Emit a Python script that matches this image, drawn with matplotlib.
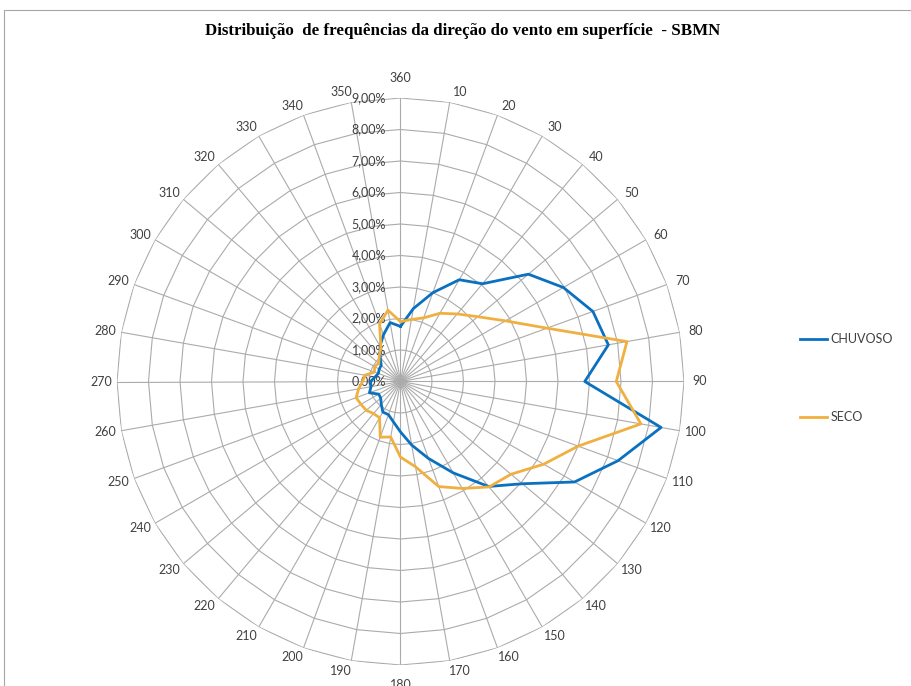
import numpy as np
import matplotlib
matplotlib.use("Agg")
import matplotlib.pyplot as plt
from matplotlib.patches import Rectangle

# Wind direction (degrees) and frequency (%)
directions = [360, 10, 20, 30, 40, 50, 60, 70, 80, 90, 100, 110,
              120, 130, 140, 150, 160, 170, 180, 190, 200, 210, 220, 230,
              240, 250, 260, 270, 280, 290, 300, 310, 320, 330, 340, 350]

chuvoso = [1.75, 2.35, 3.00, 3.73, 4.05, 5.30, 5.97, 6.50, 6.70, 5.85, 8.40, 7.35,
           6.38, 5.05, 4.35, 3.35, 2.60, 2.05, 1.60, 1.30, 1.12, 1.12, 0.95, 0.82,
           0.80, 1.05, 0.95, 0.95, 0.82, 0.75, 0.78, 0.80, 1.00, 1.30, 1.58, 1.90]

seco = [1.90, 2.00, 2.15, 2.50, 2.80, 3.20, 3.85, 4.95, 7.30, 6.85, 7.75, 6.00,
        5.25, 4.58, 4.37, 3.92, 3.55, 2.75, 2.40, 1.79, 1.88, 1.33, 1.33, 1.42,
        1.45, 1.50, 1.35, 1.20, 1.15, 0.88, 0.95, 0.90, 1.05, 1.25, 1.94, 2.30]

ring_levels = [1, 2, 3, 4, 5, 6, 7, 8, 9]
ring_labels = ["0,00%", "1,00%", "2,00%", "3,00%", "4,00%", "5,00%",
               "6,00%", "7,00%", "8,00%", "9,00%"]

blue = "#0A70C0"
gold = "#F0B040"
grid_color = "#ABABAB"
text_color = "#404040"
label_font = "Lato"

W, H = 912, 686
fig = plt.figure(figsize=(W / 100, H / 100), dpi=100)

# chart border (only top and left are visible in the crop)
fig.add_artist(Rectangle((4 / W, -0.05), 1.2, 1.05 - 10 / H, transform=fig.transFigure,
                         fill=False, ec="#A6A6A6", lw=0.8))

fig.text(463 / W, 1 - 31 / H,
         "Distribuição  de frequências da direção do vento em superfície  - SBMN",
         ha="center", va="center", family="Liberation Serif", weight="bold", fontsize=12.2)

# polar axes: center at (400.5, 381.5) px, outer radius 283.5 px
cx, cy, R = 400.5, 381.5, 283.5
ax = fig.add_axes([(cx - R) / W, (H - cy - R) / H, 2 * R / W, 2 * R / H], projection="polar")
ax.set_theta_zero_location("N")
ax.set_theta_direction(-1)
ax.set_ylim(0, 9)
ax.spines["polar"].set_visible(False)
ax.yaxis.grid(False)
ax.set_yticklabels([])

theta = np.radians(directions)
theta_closed = np.append(theta, theta[0])

# spokes (labels are placed by hand below, Excel style)
ax.set_thetagrids(np.arange(0, 360, 10), [""] * 36)
ax.xaxis.grid(True, color=grid_color, lw=0.8)
ax.tick_params(axis="x", length=0)

for d in directions:
    s, c = np.sin(np.radians(d)), np.cos(np.radians(d))
    if abs(s) < 0.05:
        ox, oy = 0, 20 * np.sign(c)
    else:
        ox, oy = np.sign(s) * (9 + 7 * abs(s)), 10 * c
    ax.annotate(str(d), xy=(np.radians(d), 9), xytext=(ox * 0.72, oy * 0.72),
                textcoords="offset points", ha="center", va="center",
                family=label_font, fontsize=9, color=text_color, annotation_clip=False)

# polygon rings like the Excel radar chart
for lev in ring_levels:
    ax.plot(theta_closed, [lev] * len(theta_closed), color=grid_color, lw=0.8, zorder=1)

for i, lab in enumerate(ring_labels):
    ax.annotate(lab, xy=(0, i), xytext=(-10.5, 0), textcoords="offset points",
                ha="right", va="center", family=label_font, fontsize=9, color=text_color)

ax.plot(theta_closed, np.append(chuvoso, chuvoso[0]), color=blue, lw=2.0, label="CHUVOSO", zorder=3)
ax.plot(theta_closed, np.append(seco, seco[0]), color=gold, lw=2.0, label="SECO", zorder=3)

fig.legend(loc="upper left", bbox_to_anchor=(800 / W, 1 - 333 / H), frameon=False,
           prop={"family": label_font, "size": 9}, borderpad=0, borderaxespad=0,
           handlelength=2.2, handletextpad=0.25, labelspacing=5.3, labelcolor=text_color)

fig.savefig("out.png", dpi=100)
